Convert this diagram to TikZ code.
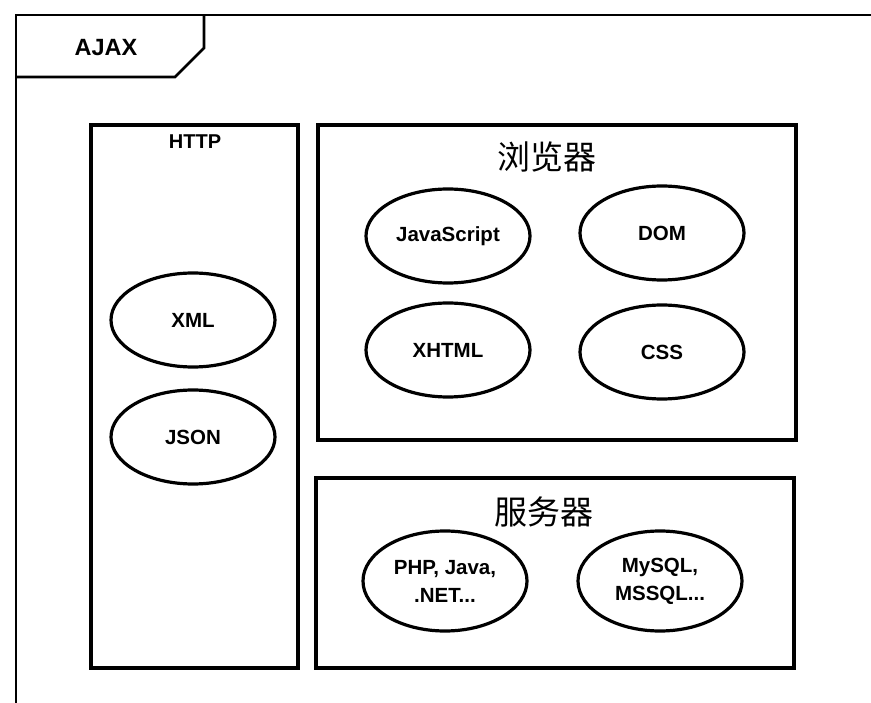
\documentclass[tikz,border=0pt]{standalone}
\usepackage{fontspec}
\setmainfont{Liberation Sans}
\newfontfamily\cjk{Noto Sans CJK SC}
\usetikzlibrary{shapes.geometric}
\tikzset{
  frameline/.style={line width=2.8pt, line join=miter},
  panel/.style={draw, line width=3.2pt, rectangle, inner sep=0pt},
  tech/.style={draw, ellipse, line width=3.2pt, minimum width=164pt, minimum height=94pt,
    inner sep=0pt, align=center, font=\fontsize{20.5}{28}\selectfont\bfseries},
  cntitle/.style={font=\cjk\fontsize{33}{33}\selectfont, inner sep=0pt},
}
\begin{document}
\begin{tikzpicture}[x=1pt,y=-1pt]
\useasboundingbox (0,0) rectangle (871,703);

% outer frame with its name tab
\coordinate (fl) at (16,703);
\coordinate (ftl) at (16,15);
\coordinate (fr) at (871,15);
\draw[frameline] (fl) -- (ftl) -- (fr);
\coordinate (tabtop) at (204,15);
\coordinate (tabcut) at (204,48);
\coordinate (tabfoot) at (175,77);
\coordinate (tableft) at (16,77);
\draw[frameline] (tabtop) -- (tabcut) -- (tabfoot) -- (tableft);
\node[font=\fontsize{23.5}{23.5}\selectfont\bfseries, inner sep=0pt] (ajax) at (106,48) {AJAX};

% panels
\node[panel, minimum width=207pt, minimum height=543pt] (http) at (194.5,396.5) {};
\node[panel, minimum width=478pt, minimum height=315pt] (browser) at (557,282.5) {};
\node[panel, minimum width=478pt, minimum height=190pt] (server) at (555,573) {};

\node[font=\fontsize{20}{20}\selectfont\bfseries, inner sep=0pt] (httptitle) at (195,142) {HTTP};
\node[cntitle] (browsertitle) at (547,157) {浏览器};
\node[cntitle] (servertitle) at (544,512) {服务器};

% data formats
\node[tech] (xml) at (193,320) {XML};
\node[tech] (json) at (193,437) {JSON};

% browser technologies
\node[tech] (js) at (448,236) {JavaScript};
\node[tech] (dom) at (662,233) {DOM};
\node[tech] (xhtml) at (448,350) {XHTML};
\node[tech] (css) at (662,352) {CSS};

% server technologies
\node[tech, minimum height=100pt] (lang) at (445,581) {PHP, Java,\\.NET...};
\node[tech, minimum height=100pt] (db) at (660,581) {MySQL,\\MSSQL...};
\end{tikzpicture}
\end{document}
